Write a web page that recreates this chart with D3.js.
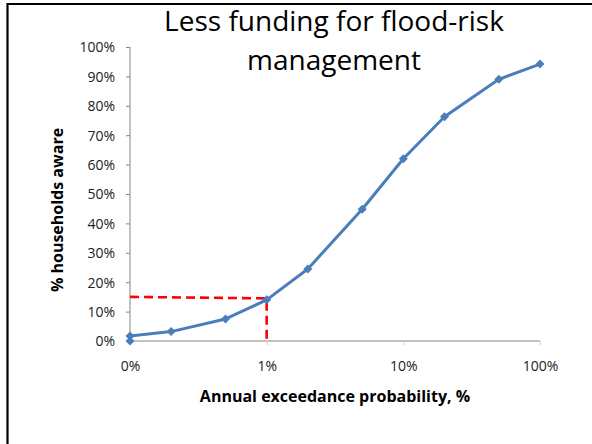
<!DOCTYPE html>
<html><head><meta charset="utf-8">
<script src="https://cdn.jsdelivr.net/npm/d3@7"></script>
<style>body{margin:0;background:#fff}svg{display:block}</style>
</head><body>
<script>
// Data
const xValues = [0.1, 0.1, 0.2, 0.5, 1, 2, 5, 10, 20, 50, 100]; // % annual exceedance probability (0.1 shown as "0%")
const yValues = [0, 1.7, 3.2, 7.5, 14, 24.5, 44.8, 62, 76.3, 89, 94.2]; // % households aware
const refX = [0.1, 1, 1];
const refY = [15, 14.5, 0];
const xTicks = [0.1, 1, 10, 100];
const xTickLabels = ["0%", "1%", "10%", "100%"];
const yTicks = [0,10,20,30,40,50,60,70,80,90,100];
const titleLines = ["Less funding for flood-risk", "management"];
const xTitle = "Annual exceedance probability, %";
const yTitle = "% households aware";

const W = 592, H = 444;
const svg = d3.select("body").append("svg").attr("width", W).attr("height", H);
const font = "'Open Sans', sans-serif";

// Outer frame
svg.append("path").attr("d", `M7.5,${H} V4 H${W}`).attr("fill","none").attr("stroke","#000").attr("stroke-width",2.2);

const x = d3.scaleLog().domain([0.1, 100]).range([130, 540]);
const y = d3.scaleLinear().domain([0, 100]).range([341, 47]);

// Y axis
const yAxis = svg.append("g").attr("transform","translate(130,0)")
  .call(d3.axisLeft(y).tickValues(yTicks).tickFormat(d => d + "%").tickSize(4).tickPadding(11));
yAxis.select(".domain").attr("stroke","#868686").attr("d","M0,47V341");
yAxis.selectAll(".tick line").attr("stroke","#868686");
yAxis.selectAll("text").style("font-family", font).style("font-size", "14px").attr("fill","#222").attr("dy","0.35em");

// X axis
const xAxis = svg.append("g").attr("transform","translate(0,341)")
  .call(d3.axisBottom(x).tickValues(xTicks).tickFormat((d,i) => xTickLabels[i]).tickSize(4).tickPadding(16));
xAxis.select(".domain").attr("stroke","#868686").attr("d","M130,0H540");
xAxis.selectAll(".tick line").attr("stroke","#d0d0d0");
xAxis.selectAll("text").style("font-family", font).style("font-size", "14px").attr("fill","#222");

// Red dashed reference
const refData = refX.map((d,i)=>[d, refY[i]]);
svg.append("path").datum(refData)
  .attr("d", d3.line().x(d=>x(d[0])).y(d=>y(d[1])))
  .attr("fill","none").attr("stroke","#ff0000").attr("stroke-width",2.6).attr("stroke-dasharray","9,5");

// Series line
const data = xValues.map((d,i)=>[d, yValues[i]]);
svg.append("path").datum(data)
  .attr("d", d3.line().x(d=>x(d[0])).y(d=>y(d[1])))
  .attr("fill","none").attr("stroke","#4a7ebb").attr("stroke-width",3).attr("stroke-linejoin","round");

svg.append("g").selectAll("path").data(data).join("path")
  .attr("transform", d => `translate(${x(d[0])},${y(d[1])})`)
  .attr("d", "M0,-4.5L4.5,0L0,4.5L-4.5,0Z")
  .attr("fill","#4a7ebb");

// Title
svg.append("text").attr("x",334).attr("y",31).attr("text-anchor","middle")
  .attr("font-family",font).attr("font-size",28).attr("fill","#000").text(titleLines[0]);
svg.append("text").attr("x",334).attr("y",70).attr("text-anchor","middle")
  .attr("font-family",font).attr("font-size",28).attr("fill","#000").text(titleLines[1]);

// Axis titles
svg.append("text").attr("x",335).attr("y",402).attr("text-anchor","middle")
  .attr("font-family",font).attr("font-size",16).attr("font-weight","bold").attr("fill","#000").text(xTitle);
svg.append("text").attr("transform","translate(63,210) rotate(-90)").attr("text-anchor","middle")
  .attr("font-family",font).attr("font-size",16).attr("font-weight","bold").attr("fill","#000").text(yTitle);
</script>
</body></html>
